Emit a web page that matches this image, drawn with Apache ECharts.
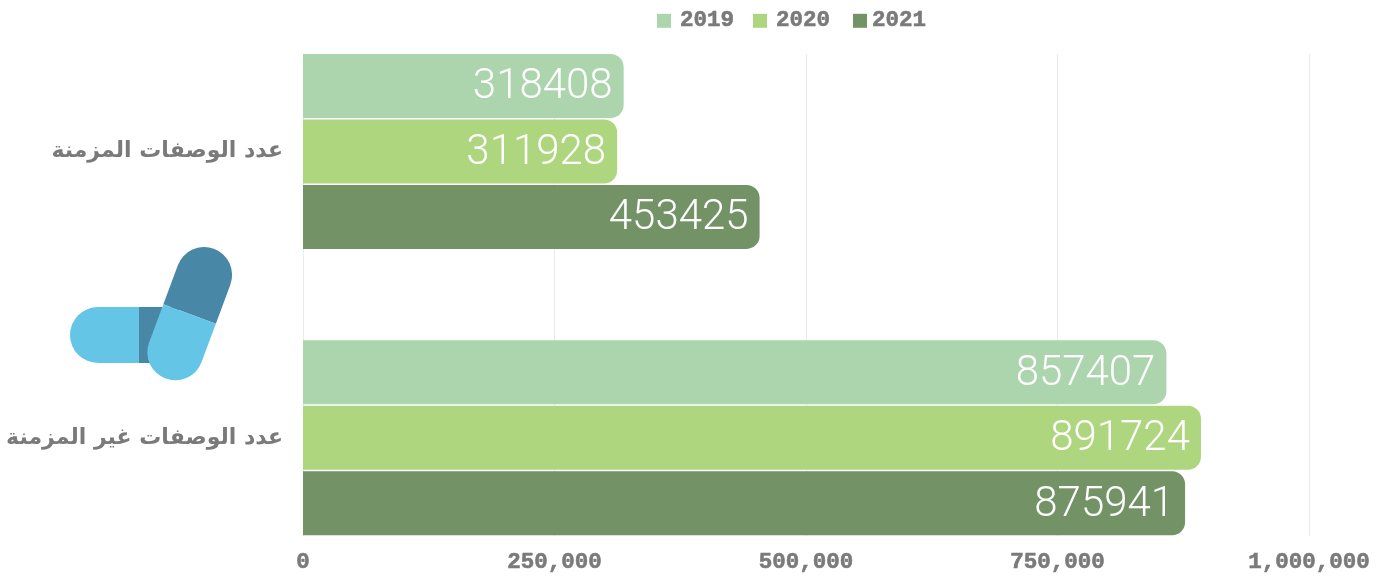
<!DOCTYPE html>
<html><head><meta charset="utf-8">
<style>html,body{margin:0;padding:0;background:#fff}#c{width:1389px;height:581px}</style>
<script src="https://cdn.jsdelivr.net/npm/echarts@6/dist/echarts.min.js"></script>
</head><body><div id="c"></div>
<script>
const categories = ['عدد الوصفات المزمنة', 'عدد الوصفات غير المزمنة'];
const seriesNames = ['2019', '2020', '2021'];
const values2019 = [318408, 857407];
const values2020 = [311928, 891724];
const values2021 = [453425, 875941];
const seriesColors = ['#acd5ae', '#aed67f', '#739367'];
const allValues = [values2019, values2020, values2021];

const chart = echarts.init(document.getElementById('c'));
const grey = '#7a7a7a';
const monoBold = {fontFamily: 'Liberation Mono', fontWeight: 'bold', fontSize: 22.5, color: grey,
  textBorderColor: grey, textBorderWidth: 0.6};
const light = '#65c5e6', dark = '#4887a6';
const tilt = -20.4 * Math.PI / 180;

chart.setOption({
  animation: false,
  backgroundColor: '#fff',
  legend: seriesNames.map((n, i) => ({
    data: [n], left: [657, 753, 853][i], top: 9, padding: 0,
    itemWidth: 14, itemHeight: 14, icon: 'rect',
    textStyle: Object.assign({}, monoBold, {padding: [0, 0, 0, [4, 4, 0][i]]})
  })),
  grid: [
    {left: 303, width: 1006, top: 54, height: 482},
    {left: 303, width: 1007, top: 8.25, height: 573}
  ],
  xAxis: [
    {type: 'value', gridIndex: 0, min: 0, max: 1000000, interval: 250000,
     axisLine: {show: false}, axisTick: {show: false},
     splitLine: {lineStyle: {color: '#ebebeb', width: 1}},
     axisLabel: Object.assign({}, monoBold, {margin: 15,
       formatter: v => v.toLocaleString('en-US')})},
    {type: 'value', gridIndex: 1, min: 0, max: 1000000, show: false}
  ],
  yAxis: [
    {type: 'category', gridIndex: 0, data: categories, show: false},
    {type: 'category', gridIndex: 1, data: categories, inverse: true,
     axisLine: {show: false}, axisTick: {show: false}, splitLine: {show: false},
     axisLabel: {margin: 20, fontFamily: 'DejaVu Sans', fontWeight: 'bold', fontSize: 22, color: grey}}
  ],
  series: seriesNames.map((n, i) => ({
    name: n, type: 'bar', xAxisIndex: 1, yAxisIndex: 1,
    data: allValues[i], barWidth: 64, barGap: '2.3%',
    itemStyle: {color: seriesColors[i], borderRadius: [0, 13, 13, 0]},
    label: {show: true, position: 'insideRight', distance: 11, color: '#fff',
      fontFamily: 'Roboto', fontWeight: 300, fontSize: 42, offset: [0, 2]}
  })),
  graphic: [
    {type: 'rect', x: 139, y: 307, shape: {width: 40, height: 56}, style: {fill: dark}, z: 10},
    {type: 'rect', x: 70, y: 307, shape: {width: 69, height: 56, r: [28, 0, 0, 28]}, style: {fill: light}, z: 10},
    {type: 'group', x: 189.6, y: 314, rotation: tilt, z: 11, children: [
      {type: 'rect', x: -28, y: -69.6, shape: {width: 56, height: 69.6, r: [28, 28, 0, 0]}, style: {fill: dark}, z: 11},
      {type: 'rect', x: -28, y: 0, shape: {width: 56, height: 68.9, r: [0, 0, 28, 28]}, style: {fill: light}, z: 11}
    ]}
  ]
});
</script></body></html>
